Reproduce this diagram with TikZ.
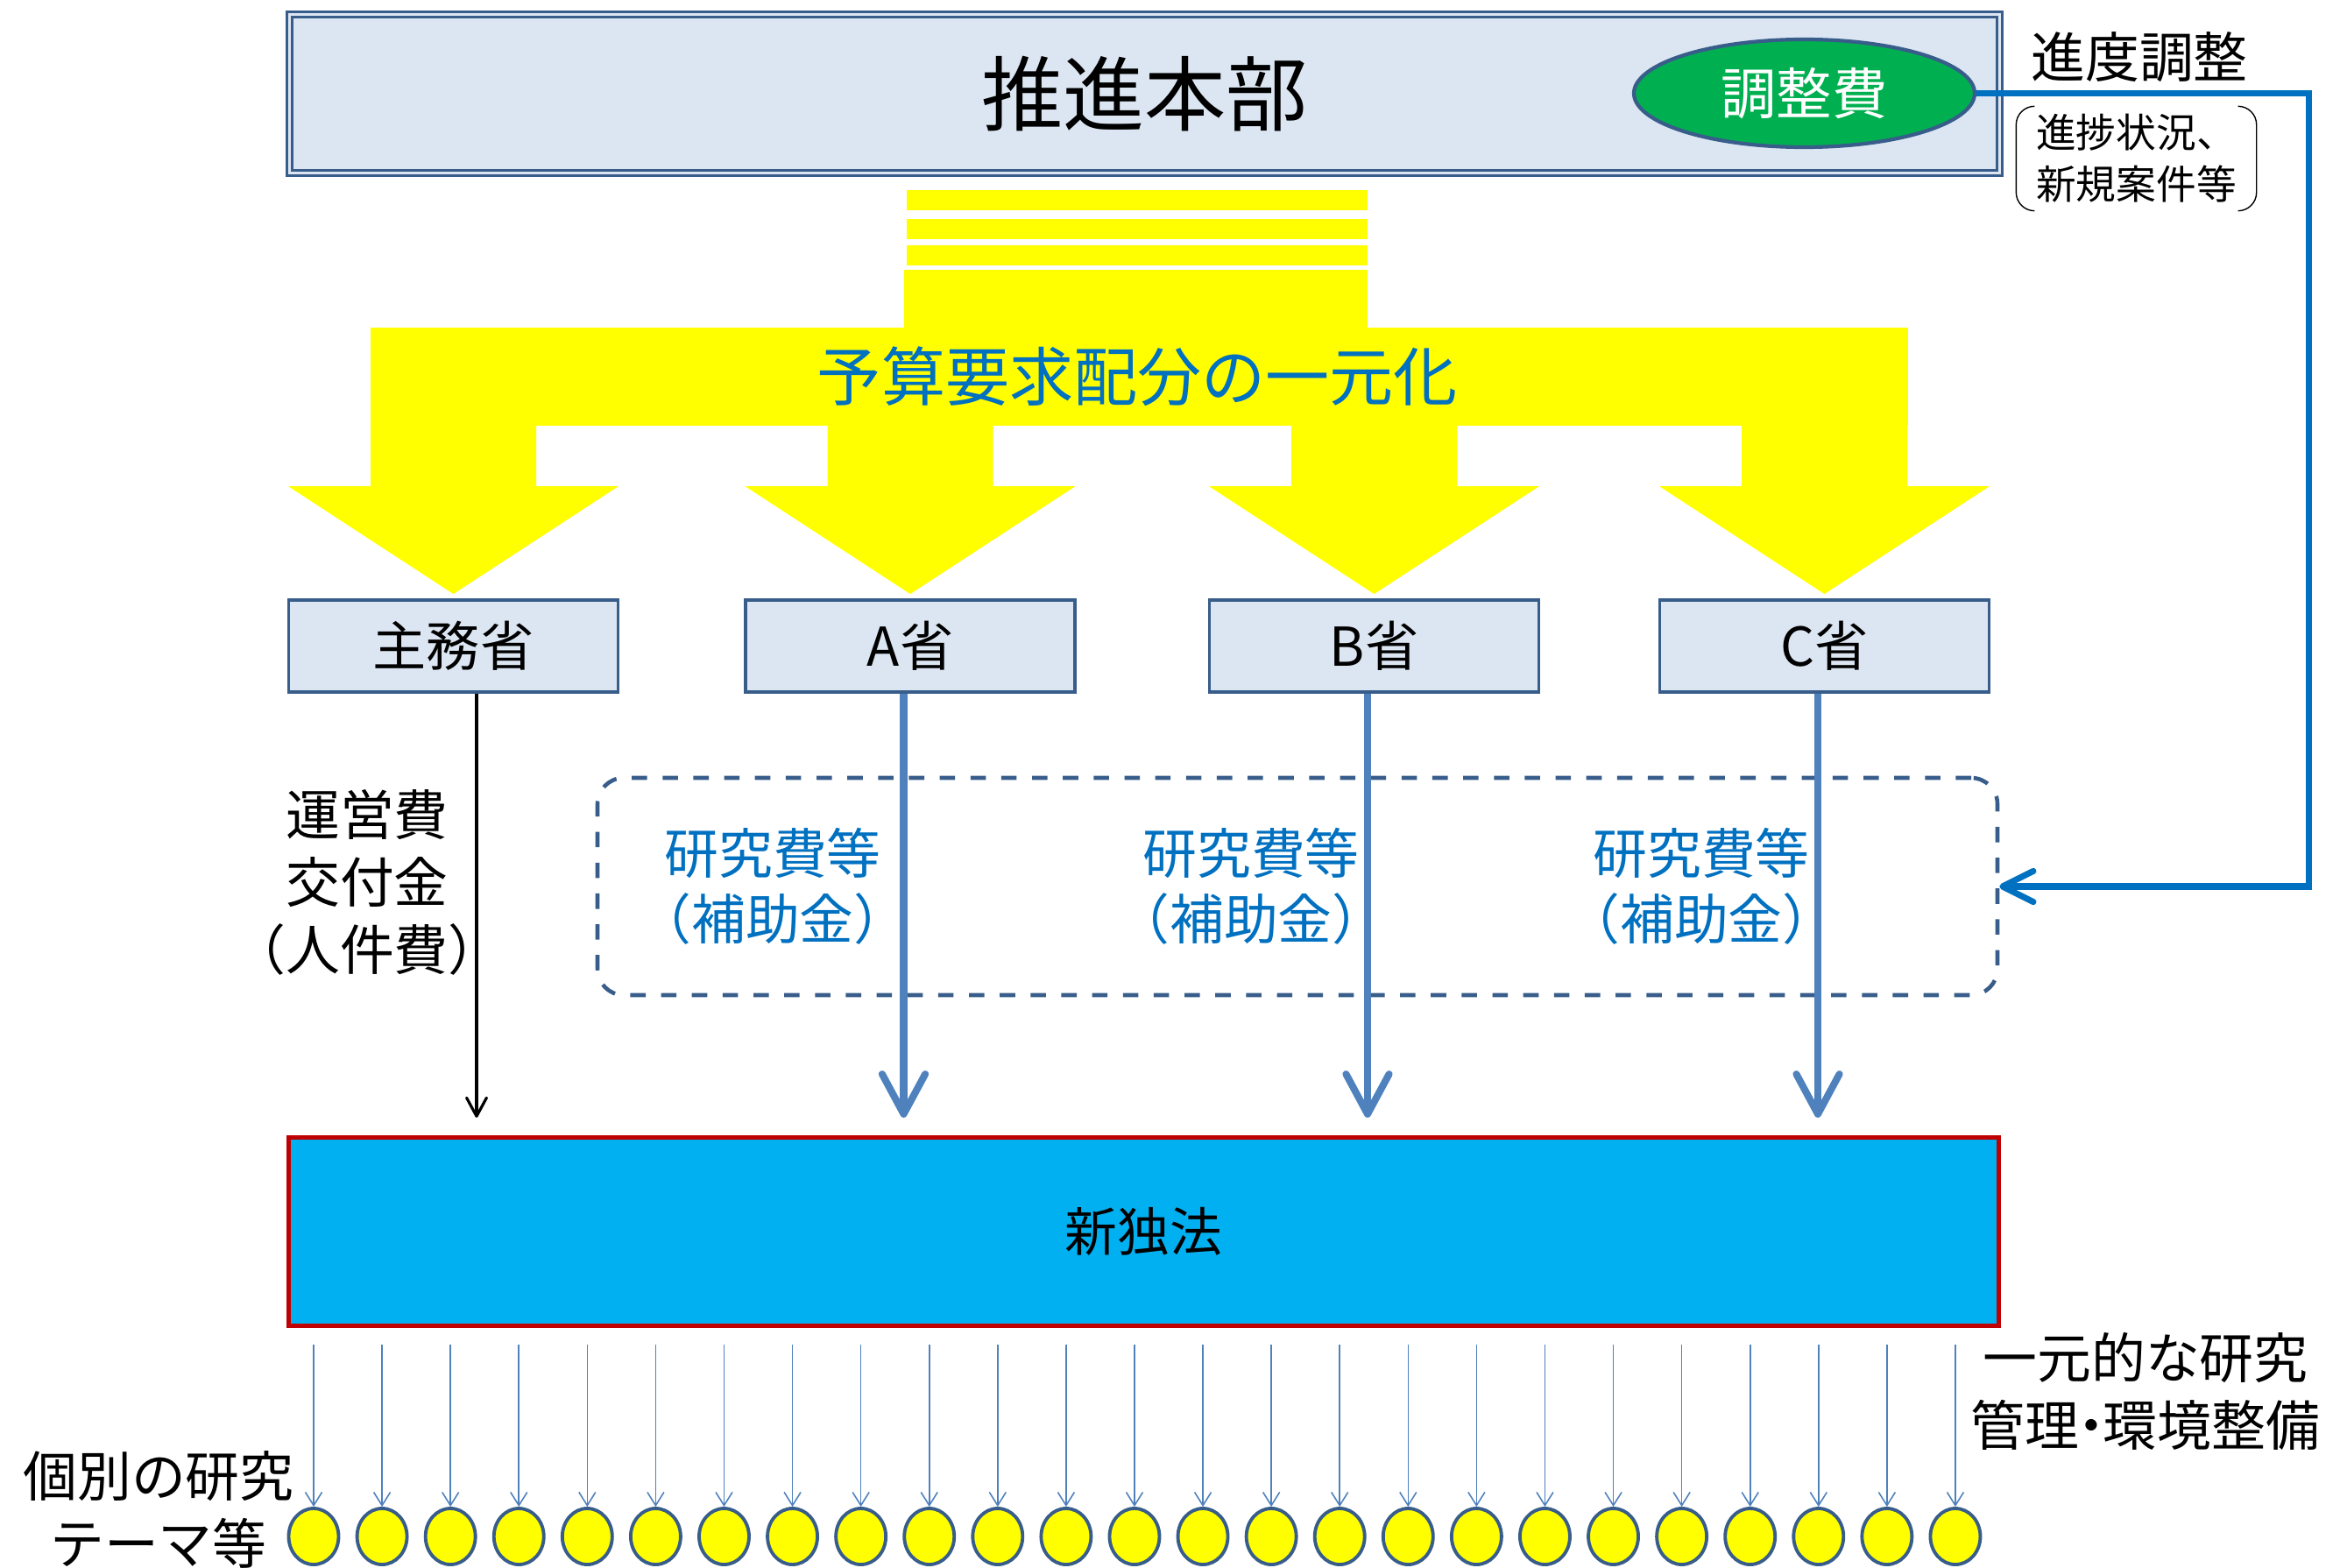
\documentclass[tikz,border=0pt]{standalone}
\usepackage{fontspec}
\setmainfont{Noto Sans CJK JP}
\usepackage{tikz}
\usetikzlibrary{arrows.meta, positioning, calc, shapes.geometric, backgrounds}
\definecolor{hqfill}{RGB}{220,230,242}
\definecolor{framecolor}{RGB}{56,93,138}
\definecolor{adjustgreen}{RGB}{0,176,80}
\definecolor{linkblue}{RGB}{0,112,192}
\definecolor{fundblue}{RGB}{79,129,189}
\definecolor{instfill}{RGB}{0,176,240}
\definecolor{instborder}{RGB}{192,0,0}
\definecolor{budgetyellow}{RGB}{255,255,0}

\begin{document}
\begin{tikzpicture}[
    hq/.style={draw=framecolor, line width=0.9pt, double=hqfill, double distance=0.8pt, fill=hqfill, minimum width=19.52cm, minimum height=1.81cm, font=\fontsize{26.5}{30}\selectfont},
    adjust/.style={ellipse, draw=framecolor, line width=1.2pt, fill=adjustgreen, text=white, minimum width=3.89cm, minimum height=1.23cm, inner sep=0pt, font=\fontsize{18}{20}\selectfont},
    ministry/.style={draw=framecolor, line width=1.1pt, fill=hqfill, minimum width=3.76cm, minimum height=1.05cm, font=\fontsize{17.4}{20}\selectfont},
    inst/.style={draw=instborder, line width=1.5pt, fill=instfill, minimum width=19.52cm, minimum height=2.15cm, font=\fontsize{17}{20}\selectfont},
    theme/.style={ellipse, draw=framecolor, line width=1.1pt, fill=budgetyellow, minimum width=0.57cm, minimum height=0.64cm, inner sep=0pt},
    note/.style={font=\fontsize{17.6}{21.9}\selectfont, align=center, inner sep=0pt},
    grantnote/.style={note, text=linkblue, font=\fontsize{17.6}{21.3}\selectfont},
    fund/.style={-{Straight Barb[length=13pt, width=14pt, round]}, fundblue, line width=2.3pt, shorten >=0.2cm},
    adminarrow/.style={-{Straight Barb[length=6pt, width=6.5pt, round]}, line width=0.9pt, shorten >=0.2cm},
    themearrow/.style={-{Straight Barb[length=4.3pt, width=5.4pt]}, fundblue, line width=0.45pt, shorten <=0.185cm},
    link/.style={-{Straight Barb[length=10pt, width=10pt, round]}, linkblue, line width=2pt}
]
    \useasboundingbox (0,0) rectangle (26.79,-17.90);

    % Headquarters
    \node[hq] (hq) at (13.065,-1.07) {推進本部};
    \node[adjust] (fee) at (20.595,-1.065) {調整費};
    \node[note] (progress) at (24.42,-0.65) {進度調整};
    \node[note, font=\fontsize{13}{16.8}\selectfont, minimum width=2.73cm, minimum height=1.18cm] (status) at (24.385,-1.81) {進捗状況、\\新規案件等};
    \draw[rounded corners=6pt] ([xshift=0.2cm]status.north west) -- (status.north west) -- (status.south west) -- ([xshift=0.2cm]status.south west);
    \draw[rounded corners=6pt] ([xshift=-0.2cm]status.north east) -- (status.north east) -- (status.south east) -- ([xshift=-0.2cm]status.south east);

    % Ministries
    \node[ministry] (main) at (5.175,-7.375) {主務省};
    \node[ministry] (a) at (10.39,-7.375) {A省};
    \node[ministry] (b) at (15.685,-7.375) {B省};
    \node[ministry] (c) at (20.825,-7.375) {C省};

    % Unified budget allocation
    \begin{scope}[on background layer]
        \foreach \y in {2.17,2.50,2.80}
            \fill[budgetyellow] (10.35,-\y) rectangle (15.61,{-\y-0.23});
        \fill[budgetyellow] (10.32,-3.08) rectangle (15.61,-3.76);
        \fill[budgetyellow] (4.23,-3.74) rectangle (21.78,-4.86);
        \foreach \m in {main,a,b,c}
            \fill[budgetyellow] ([yshift=0.05cm]\m.north) -- ++(-1.885,1.23) -- ++(0.94,0) -- ++(0,0.72) -- ++(1.89,0) -- ++(0,-0.72) -- ++(0.94,0) -- cycle;
    \end{scope}
    \node[note, text=linkblue, font=\fontsize{20.8}{24}\selectfont] (unify) at (12.985,-4.30) {予算要求配分の一元化};

    % Research grants
    \node[draw=framecolor, line width=1.3pt, dash pattern=on 5pt off 5pt, rounded corners=0.3cm, minimum width=15.98cm, minimum height=2.48cm] (grants) at (14.81,-10.12) {};
    \node[grantnote] (grantA) at (8.82,-10.12) {研究費等\\（補助金）};
    \node[grantnote] (grantB) at (14.28,-10.12) {研究費等\\（補助金）};
    \node[grantnote] (grantC) at (19.42,-10.12) {研究費等\\（補助金）};
    \node[note] (opgrant) at (4.19,-10.07) {運営費\\交付金\\（人件費）};

    % New agency
    \node[inst] (inst) at (13.055,-14.06) {新独法};

    % Funding flows
    \draw[adminarrow] ([xshift=0.265cm]main.south) -- ([xshift=0.265cm]main.south |- inst.north);
    \foreach \m in {a,b,c}
        \draw[fund] ([xshift=-0.075cm]\m.south) -- ([xshift=-0.075cm]\m.south |- inst.north);

    % Coordination feedback
    \coordinate (turn) at (26.35,0);
    \draw[link] (fee.east) -- (fee.east -| turn) |- (grants.east);

    % Individual research themes
    \foreach \i in {1,...,25} {
        \node[theme] (t\i) at ({3.58+(\i-1)*0.7808},-17.54) {};
        \draw[themearrow] (t\i.north |- inst.south) -- (t\i.north);
    }
    \node[note] (themes) at (1.81,-17.23) {個別の研究\\テーマ等};
    \node[note] (manage) at (24.49,-15.88) {一元的な研究\\管理\hspace{-0.28em}・\hspace{-0.28em}環境整備};
\end{tikzpicture}
\end{document}
